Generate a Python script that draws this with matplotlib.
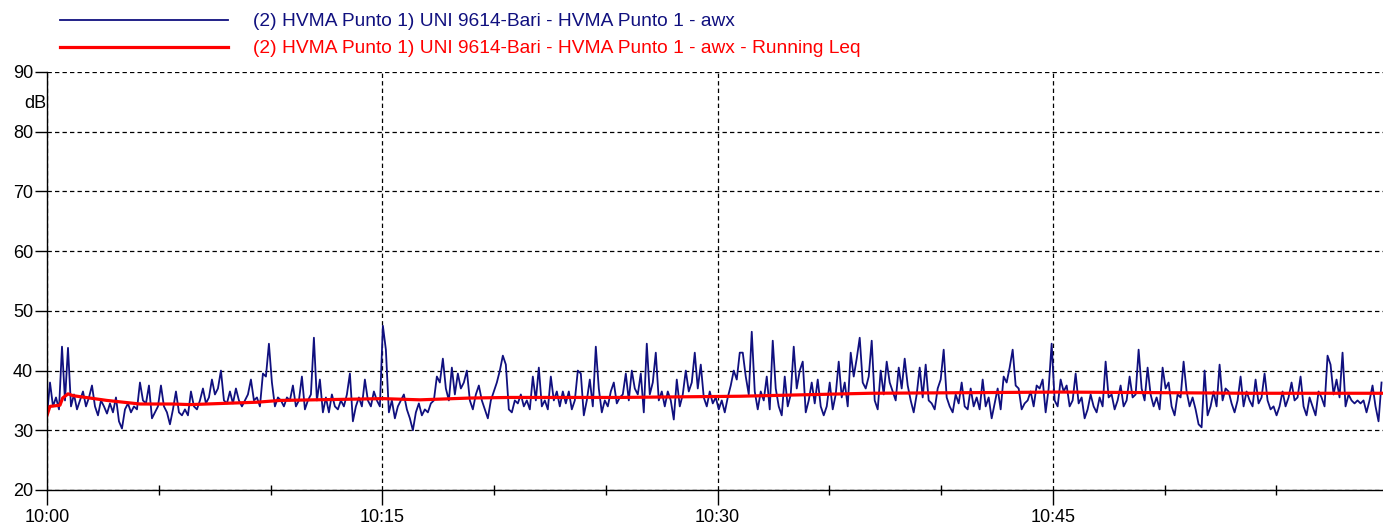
import numpy as np
import matplotlib
matplotlib.use("Agg")
from matplotlib import pyplot as plt

plt.rcParams['font.family'] = ['Liberation Sans', 'DejaVu Sans']

# sampling interval of the awx trace (seconds)
step_s = 8.05

# awx level, dB
awx = [
    32.5, 38, 34, 35.5, 33.5, 44, 35, 43.8, 34, 36,
    33.5, 35, 36.5, 34, 35.5, 37.5, 34, 32.5, 35, 34,
    32.8, 34.5, 33, 35.5, 31.5, 30.3, 33.5, 34.5, 33, 34,
    33.5, 38, 35, 34.5, 37.5, 32, 33, 34, 37.5, 34,
    33, 31, 33.5, 36.5, 33, 32.5, 33.5, 32.5, 36.5, 34,
    33.5, 35, 37, 34.5, 35.5, 38.5, 36, 37, 40, 35,
    34.5, 36.5, 34.5, 37, 35, 34, 35, 36, 38.5, 35,
    35.5, 34, 39.5, 39, 44.5, 38, 34, 35.5,
    35, 34, 35.5, 35, 37.5, 34, 35, 39, 33.5, 35,
    36, 45.5, 35, 38.5, 33, 35.5, 33, 36, 34, 33.5,
    35, 34, 36, 39.5, 31.5, 34, 35.5, 34, 38.5, 35,
    34, 36.5, 35, 34, 47.5, 43.5, 33, 35, 32, 34,
    35, 36, 33.5, 32, 30, 33, 34.5, 32.5, 33.5, 33,
    34.5, 35, 39, 38, 42, 37, 35, 40.5, 36, 39.5,
    37, 38, 40, 35, 33.5, 36, 37.5, 35, 33.5, 32,
    35, 36.5, 38, 40, 42.5, 41, 33.5,
    33, 35, 34.5, 36, 34, 35, 33.5, 39, 35, 40.5,
    34, 35, 33.5, 39, 35, 36.5, 34, 36.5, 34.5, 36.5,
    33.5, 35, 40, 39.5, 32.5, 35, 38.5, 34, 44, 37,
    33, 35, 34, 36.5, 38, 34.5, 35.5, 36, 39.5, 35,
    40, 37, 36, 39.5, 33, 44.5, 36, 38, 43, 35,
    36.5, 34, 36.5, 35, 31.8, 38.5, 34, 36, 40, 36.5,
    38, 43, 37, 41, 35.5, 34, 36.5, 34.5, 35.5, 33.5,
    35, 33, 35.5, 37.5, 40, 38.5, 43,
    43, 39, 36, 46.5, 36.5, 33.5, 36.5, 35, 39, 33.5,
    45, 37, 34, 32.5, 39, 34, 36, 44, 37, 40,
    41.5, 33, 35, 38, 34.5, 38.5, 34, 32.5, 34, 38,
    33.5, 36, 41.5, 35.5, 38, 34, 43, 39, 42, 45.5,
    38, 37, 39, 45, 35, 33.5, 40, 36, 41.5, 38,
    36.5, 35, 40.5, 37, 42, 37.5, 35, 33, 36, 40.5,
    35.5, 41, 35, 34.5, 33.5, 37, 38.5, 43.5, 35.5, 34,
    33, 36, 34.5, 38, 34, 33.5,
    37, 34, 35.5, 33.5, 38.5, 34, 35.5, 32, 34.5, 37,
    33.5, 39, 38, 40.5, 43.5, 37.5, 37, 33.5, 34.5, 35,
    36.5, 34, 37.5, 37, 38.5, 33, 37, 44.5, 35, 34,
    38.5, 36.5, 37.5, 34, 35, 39.5, 34.5, 35.5, 32, 33.5,
    36, 34, 33, 35.5, 34, 41.5, 35.5, 36, 33.5, 35,
    37.5, 34, 35, 39, 35.5, 36, 43.5, 37, 35, 40.5,
    36, 34, 35.5, 33.5, 40.5, 37, 38, 34, 32.5, 36,
    35.5, 41.5, 36.5, 34, 35.5, 33.5, 31,
    30.5, 40, 32.5, 34, 36.5, 34, 41, 35, 37, 36.5,
    34.5, 33, 35, 39, 34, 36.5, 35, 34, 38.5, 34.5,
    35.5, 39.5, 35, 33.5, 34, 32.5, 34, 36.5, 34, 35.5,
    38, 35, 35.5, 39, 34, 32.5, 35.5, 34, 32.5, 36.5,
    35.5, 34, 42.5, 41, 36, 38.5, 35.5, 43, 34, 36,
    35, 34.5, 35, 34.5, 35, 33, 35, 37.5, 34, 31.5,
    38,
]

# running Leq (minutes after 10:00, dB)
leq_min = [0, 0.13, 0.58, 0.70, 0.94, 1.16, 1.92, 2.68, 4.16, 5.64, 6.40,
           7.87, 9.39, 10.42, 15.03, 16.69, 18.92, 20.71, 25.63, 31.0,
           36.82, 41.29, 45.32, 49.79, 53.82, 59.77]
leq_db = [32.5, 34.0, 34.2, 35.4, 36.1, 35.8, 35.4, 35.0, 34.4, 34.4, 34.3,
          34.5, 34.7, 35.0, 35.3, 35.1, 35.4, 35.5, 35.5, 35.7,
          36.2, 36.3, 36.4, 36.3, 36.2, 36.2]

y_ticks = [20, 30, 40, 50, 60, 70, 80, 90]
x_major = [0, 15, 30, 45]
x_labels = ["10:00", "10:15", "10:30", "10:45"]
x_minor = [5, 10, 20, 25, 35, 40, 50, 55]

label_awx = "(2) HVMA Punto 1) UNI 9614-Bari - HVMA Punto 1 - awx"
label_leq = label_awx + " - Running Leq"

blue = "#10107f"
red = "#ff0000"
fs = 13
fs_leg = 13.8

W, H = 1383, 526
fig = plt.figure(figsize=(W / 100, H / 100), dpi=100)
ax = fig.add_axes([47 / W, 36 / H, 1 - 47 / W, 418 / H])

t_min = np.arange(len(awx)) * step_s / 60
l1, = ax.plot(t_min, awx, color=blue, lw=1.3, label=label_awx)
l2, = ax.plot(leq_min, leq_db, color=red, lw=2.3, label=label_leq)

ax.set_xlim(0, 59.77)
ax.set_ylim(20, 90)
ax.set_yticks(y_ticks)
ax.set_xticks(x_major)
ax.set_xticklabels(x_labels)
ax.set_xticks(x_minor, minor=True)

ax.grid(True, which='major', color='black', lw=0.9, linestyle=(0, (3.5, 2.5)))
ax.set_axisbelow(True)
for s in ['top', 'right']:
    ax.spines[s].set_visible(False)
for s in ['left', 'bottom']:
    ax.spines[s].set_color('black')
    ax.spines[s].set_linewidth(1.0)

ax.tick_params(axis='y', which='major', direction='out', length=9, width=1,
               labelsize=fs, pad=1)
ax.tick_params(axis='x', which='major', direction='out', length=11, width=1,
               labelsize=fs, pad=3)
ax.tick_params(axis='x', which='minor', direction='inout', length=7, width=1)

fig.text(35 / W, 1 - 103 / H, "dB", ha='center', va='center', fontsize=fs)

fig.legend(handles=[l1, l2], loc='upper left', bbox_to_anchor=(60 / W, 1 - 13 / H),
           frameon=False, fontsize=fs_leg, handlelength=8.75, handletextpad=1.3,
           labelspacing=0.5, borderpad=0, borderaxespad=0, labelcolor='linecolor')

fig.savefig("out.png", dpi=100)
